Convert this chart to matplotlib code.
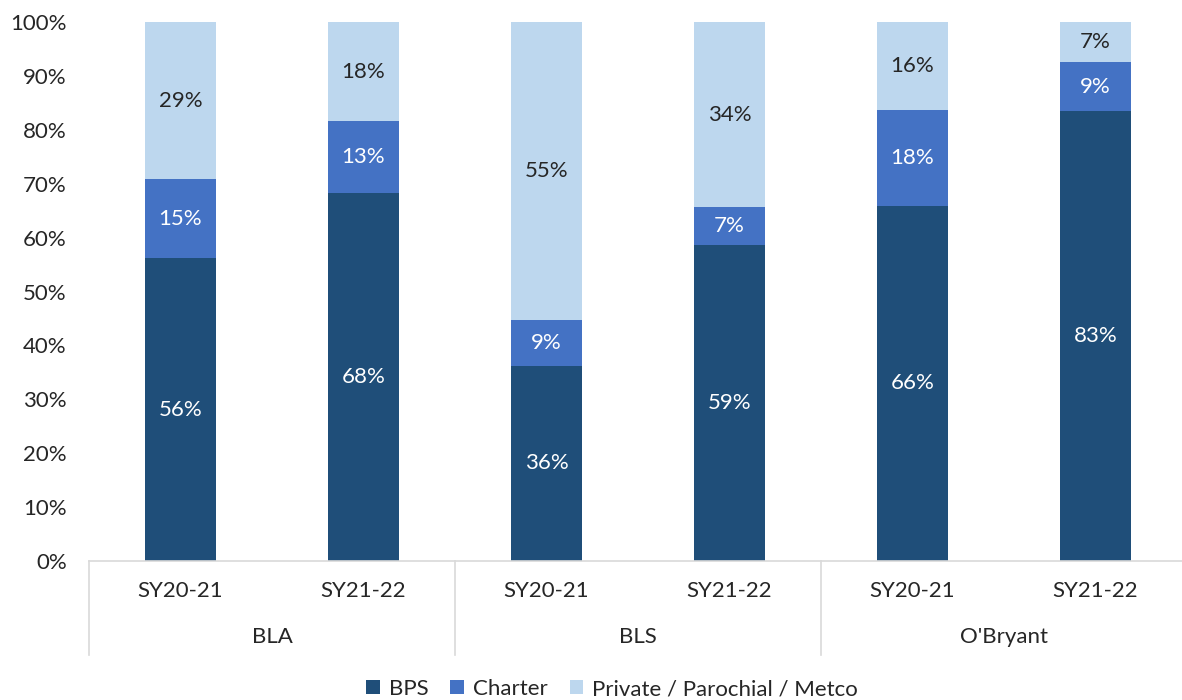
import matplotlib
matplotlib.use("Agg")
import matplotlib.pyplot as plt
import numpy as np

plt.rcParams['font.family'] = ['Lato', 'DejaVu Sans']

groups = ["BLA", "BLS", "O'Bryant"]
years = ["SY20-21", "SY21-22"]
series = ["BPS", "Charter", "Private / Parochial / Metco"]
bps = [56.2, 68.2, 36.2, 58.6, 65.9, 83.4]
charter = [14.6, 13.4, 8.6, 7.0, 17.7, 9.2]
private = [29.2, 18.4, 55.2, 34.4, 16.4, 7.4]
colors = ["#1F4E79", "#4472C4", "#BDD7EE"]
text_colors = ["white", "white", "#262626"]

FS = 16
W, H = 1182, 700
fig = plt.figure(figsize=(W / 100, H / 100), dpi=100)
left, right, top, bottom = 89, 1187, 22, 561
ax = fig.add_axes([left / W, 1 - bottom / H, (right - left) / W, (bottom - top) / H])

x = np.arange(len(bps))
bottoms = np.zeros(len(bps))
for vals, col, tc, name in zip([bps, charter, private], colors, text_colors, series):
    vals = np.array(vals)
    ax.bar(x, vals, bottom=bottoms, width=0.39, color=col, label=name, zorder=2)
    for xi, v, b in zip(x, vals, bottoms):
        ax.text(xi, b + v / 2, f"{v:.0f}%", ha="center", va="center", color=tc, fontsize=FS)
    bottoms += vals

ax.set_xlim(-0.5, 5.5)
ax.set_ylim(0, 100)
ax.set_yticks(np.arange(0, 101, 10))
ax.set_yticklabels([f"{v}%" for v in range(0, 101, 10)], fontsize=FS, color="#262626")
ax.tick_params(axis="y", length=0, pad=16)
ax.tick_params(axis="x", length=0)
ax.set_xticks([])
for s in ["top", "right", "left"]:
    ax.spines[s].set_visible(False)
ax.spines["bottom"].set_color("#D9D9D9")
ax.spines["bottom"].set_linewidth(1.2)

trans = ax.get_xaxis_transform()
sep_bottom = -(655 - 561) / (bottom - top)
for xs in [-0.5, 1.5, 3.5, 5.5]:
    ax.plot([xs, xs], [0, sep_bottom], transform=trans, color="#D9D9D9", lw=1.2, clip_on=False)

sub_y = -(591 - 561) / (bottom - top)
grp_y = -(637 - 561) / (bottom - top)
for i in range(len(bps)):
    ax.text(i, sub_y, years[i % 2], transform=trans, ha="center", va="center", fontsize=FS, color="#262626")
for g, name in enumerate(groups):
    ax.text(2 * g + 0.5, grp_y, name, transform=trans, ha="center", va="center", fontsize=FS, color="#262626")

handles, labels = ax.get_legend_handles_labels()
fig.legend(handles, labels, loc="center", bbox_to_anchor=(612 / W, 1 - 689 / H), ncol=3,
           frameon=False, fontsize=FS, handlelength=0.6, handleheight=0.6, handletextpad=0.4,
           columnspacing=1.0, labelcolor="#262626")

fig.savefig("out.png", dpi=100)
